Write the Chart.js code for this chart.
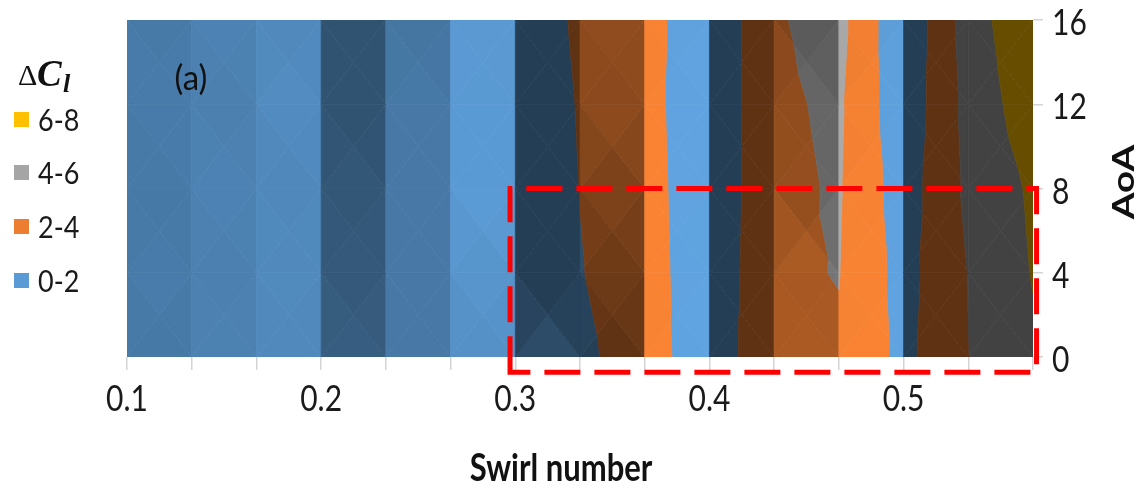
<!DOCTYPE html>
<html>
<head>
<meta charset="utf-8">
<script src="https://cdn.jsdelivr.net/npm/chart.js@4.4.1/dist/chart.umd.min.js"></script>
<style>
  html, body { margin: 0; padding: 0; background: #fff; }
  canvas { display: block; }
</style>
</head>
<body>
<canvas id="chart" width="1147" height="491"></canvas>
<script>
// Swirl number (x categories) and angle of attack (y rows)
const swirl = [0.1, 0.13333, 0.16667, 0.2, 0.23333, 0.26667, 0.3, 0.33333, 0.36667, 0.4, 0.43333, 0.46667, 0.5, 0.53333, 0.56667];
const aoa = [0, 4, 8, 12, 16];

// ΔCl for each angle of attack, one value per swirl number
const dClAoA0  = [0.55, 0.66, 0.58, 0.32, 0.95, 1.05, 0.60, 1.60, 2.90, 0.76, 3.56, 3.80, 1.48, 3.97, 5.70];
const dClAoA4  = [0.55, 0.60, 0.55, 0.28, 1.00, 1.10, 0.50, 1.92, 3.00, 0.44, 3.76, 4.05, 1.30, 4.05, 6.10];
const dClAoA8  = [0.55, 0.64, 0.52, 0.28, 1.05, 1.15, 0.30, 2.03, 2.90, 0.40, 3.60, 4.16, 1.00, 4.40, 6.30];
const dClAoA12 = [0.55, 0.60, 0.56, 0.24, 1.10, 1.20, 0.35, 2.14, 2.80, 0.30, 3.70, 4.28, 0.60, 4.60, 7.20];
const dClAoA16 = [0.55, 0.62, 0.50, 0.24, 1.10, 1.25, 0.45, 2.36, 2.96, 0.17, 3.83, 4.60, 0.32, 4.90, 7.90];
const dCl = [dClAoA0, dClAoA4, dClAoA8, dClAoA12, dClAoA16];

// Contour bands
const bandEdges = [0, 2, 4, 6, 8];
const bandLabels = ['0-2', '2-4', '4-6', '6-8'];
const bandColors = ['#5B9BD5', '#ED7D31', '#A5A5A5', '#FFC000'];

// Axis tick labels
const xTickLabels = [0.1, 0.2, 0.3, 0.4, 0.5];
const yTickLabels = [0, 4, 8, 12, 16];

// Highlighted region (swirl from/to, AoA from/to)
const focusSwirl = [0.2973, 0.5685];
const focusAoA = [-0.72, 8];

// Surface lighting
const AMB = 0.4, DIF = 0.66, Z_EXAG = 0.6;
const LIGHT_TILT = 51.5 * Math.PI / 180, LIGHT_AZ = 12 * Math.PI / 180;
const LIGHT = [Math.sin(LIGHT_TILT) * Math.cos(LIGHT_AZ), Math.sin(LIGHT_TILT) * Math.sin(LIGHT_AZ), Math.cos(LIGHT_TILT)];

const TEXT_STRETCH = 1.25;
const SANS = 'Lato, "Open Sans", sans-serif';
const SERIF = '"Liberation Serif", "DejaVu Serif", serif';

function hexToRgb(h) {
  const n = parseInt(h.slice(1), 16);
  return [(n >> 16) & 255, (n >> 8) & 255, n & 255];
}
function shadeColor(hex, f) {
  const c = hexToRgb(hex).map(v => Math.max(0, Math.min(255, Math.round(v * f))));
  return `rgb(${c[0]},${c[1]},${c[2]})`;
}

function facetBrightness(a, b, c, unit) {
  const P = p => [p.px / unit, -p.py / unit, p.z * Z_EXAG];
  const A = P(a), B = P(b), C = P(c);
  const u = [B[0] - A[0], B[1] - A[1], B[2] - A[2]];
  const v = [C[0] - A[0], C[1] - A[1], C[2] - A[2]];
  let n = [u[1] * v[2] - u[2] * v[1], u[2] * v[0] - u[0] * v[2], u[0] * v[1] - u[1] * v[0]];
  if (n[2] < 0) n = n.map(q => -q);
  const len = Math.hypot(n[0], n[1], n[2]) || 1;
  const d = (n[0] * LIGHT[0] + n[1] * LIGHT[1] + n[2] * LIGHT[2]) / len;
  return AMB + DIF * Math.max(0, d);
}

function clipPoly(poly, fn) {
  const out = [];
  for (let i = 0; i < poly.length; i++) {
    const a = poly[i], b = poly[(i + 1) % poly.length];
    const fa = fn(a), fb = fn(b);
    if (fa >= 0) out.push(a);
    if ((fa >= 0) !== (fb >= 0)) {
      const t = fa / (fa - fb);
      out.push({ px: a.px + t * (b.px - a.px), py: a.py + t * (b.py - a.py), z: a.z + t * (b.z - a.z) });
    }
  }
  return out;
}

function drawText(ctx, str, x, y, font, opts = {}) {
  ctx.save();
  ctx.translate(x, y);
  if (opts.rot) ctx.rotate(opts.rot);
  ctx.scale(opts.stretchX || 1, opts.stretch || 1);
  ctx.font = font;
  ctx.fillStyle = opts.color || '#1a1a1a';
  ctx.textAlign = opts.align || 'center';
  ctx.textBaseline = opts.baseline || 'middle';
  ctx.fillText(str, 0, 0);
  ctx.restore();
}

// Filled contour surface: each grid cell split into four facets around its centre
const surfacePlugin = {
  id: 'surface',
  beforeDatasetsDraw(chart) {
    const { ctx, chartArea, scales: { x, y } } = chart;
    const unit = Math.abs(x.getPixelForValue(swirl[1]) - x.getPixelForValue(swirl[0]));
    const pt = (ci, ri) => ({ px: x.getPixelForValue(swirl[ci]), py: y.getPixelForValue(aoa[ri]), z: dCl[ri][ci] });
    ctx.save();
    ctx.beginPath();
    ctx.rect(chartArea.left, chartArea.top, chartArea.width, chartArea.height);
    ctx.clip();
    ctx.lineJoin = 'round';
    for (let r = 0; r < aoa.length - 1; r++) {
      for (let c = 0; c < swirl.length - 1; c++) {
        const p00 = pt(c, r), p10 = pt(c + 1, r), p11 = pt(c + 1, r + 1), p01 = pt(c, r + 1);
        const pc = {
          px: (p00.px + p10.px + p11.px + p01.px) / 4,
          py: (p00.py + p10.py + p11.py + p01.py) / 4,
          z: (p00.z + p10.z + p11.z + p01.z) / 4
        };
        const tris = [[p00, p10, pc], [p10, p11, pc], [p11, p01, pc], [p01, p00, pc]];
        for (const tri of tris) {
          const f = facetBrightness(tri[0], tri[1], tri[2], unit);
          for (let b = 0; b < bandColors.length; b++) {
            const lo = b === 0 ? -1e9 : bandEdges[b];
            const hi = b === bandColors.length - 1 ? 1e9 : bandEdges[b + 1];
            let poly = clipPoly(tri, p => p.z - lo);
            if (poly.length < 3) continue;
            poly = clipPoly(poly, p => hi - p.z);
            if (poly.length < 3) continue;
            const col = shadeColor(bandColors[b], f);
            ctx.beginPath();
            ctx.moveTo(poly[0].px, poly[0].py);
            for (let i = 1; i < poly.length; i++) ctx.lineTo(poly[i].px, poly[i].py);
            ctx.closePath();
            ctx.fillStyle = col;
            ctx.strokeStyle = col;
            ctx.lineWidth = 0.7;
            ctx.fill();
            ctx.stroke();
          }
        }
      }
    }
    ctx.restore();
  }
};

// Highlight box, panel label, legend and axis texts
const decorPlugin = {
  id: 'decor',
  afterDraw(chart) {
    const { ctx, chartArea, scales: { x, y } } = chart;

    // dashed focus box
    const bx0 = x.getPixelForValue(focusSwirl[0]), bx1 = x.getPixelForValue(focusSwirl[1]);
    const by0 = y.getPixelForValue(focusAoA[1]), by1 = y.getPixelForValue(focusAoA[0]);
    ctx.save();
    ctx.strokeStyle = '#FF0000';
    ctx.lineWidth = 5;
    ctx.setLineDash([36, 14]);
    ctx.beginPath();
    ctx.moveTo(bx0, by1);
    ctx.lineTo(bx0, by0);
    ctx.lineTo(bx1, by0);
    ctx.lineTo(bx1, by1);
    ctx.closePath();
    ctx.stroke();
    ctx.restore();

    // panel label
    drawText(ctx, '(a)', 191, 79, `33px ${SANS}`, { stretch: 1.05, color: '#111' });

    // x tick labels
    xTickLabels.forEach(v => {
      drawText(ctx, v.toFixed(1), x.getPixelForValue(v), 399, `30px ${SANS}`, { stretch: TEXT_STRETCH });
    });
    // y tick labels (right side)
    yTickLabels.forEach(v => {
      drawText(ctx, String(v), chartArea.right + 19, y.getPixelForValue(v) + 3, `30px ${SANS}`, { stretch: TEXT_STRETCH, align: 'left' });
    });

    // axis titles
    drawText(ctx, 'Swirl number', 561, 468, `bold 31px ${SANS}`, { stretch: TEXT_STRETCH, color: '#111' });
    drawText(ctx, 'AoA', 1124, 182, `bold 30px ${SANS}`, { stretchX: 1.28, rot: -Math.PI / 2, color: '#111' });

    // legend title ΔCl
    ctx.save();
    ctx.fillStyle = '#111';
    ctx.textBaseline = 'alphabetic';
    ctx.textAlign = 'left';
    ctx.font = `30px ${SERIF}`;
    ctx.fillText('Δ', 18, 85);
    ctx.font = `bold italic 37px ${SERIF}`;
    ctx.fillText('C', 37, 86);
    ctx.font = `bold italic 26px ${SERIF}`;
    ctx.fillText('l', 63, 92);
    ctx.restore();

    // legend items, highest band first
    const rows = [120, 173, 227, 281];
    for (let i = 0; i < bandLabels.length; i++) {
      const b = bandLabels.length - 1 - i;
      ctx.fillStyle = bandColors[b];
      ctx.fillRect(14, rows[i] - 8, 15, 15);
      drawText(ctx, bandLabels[b], 38, rows[i] + 1, `27px ${SANS}`, { stretch: 1.15, align: 'left' });
    }
  }
};

const gridPoints = [];
aoa.forEach(a => swirl.forEach(s => gridPoints.push({ x: s, y: a })));

new Chart(document.getElementById('chart').getContext('2d'), {
  type: 'scatter',
  data: { datasets: [{ label: 'ΔCl', data: gridPoints, pointRadius: 0, pointHoverRadius: 0, showLine: false }] },
  options: {
    responsive: false,
    animation: false,
    devicePixelRatio: 1,
    layout: { padding: { left: 127, top: 20, right: 0, bottom: 0 } },
    plugins: { legend: { display: false }, tooltip: { enabled: false } },
    scales: {
      x: {
        type: 'linear',
        min: swirl[0],
        max: swirl[swirl.length - 1],
        afterBuildTicks: s => { s.ticks = swirl.map(v => ({ value: v })); },
        afterFit: s => { s.height = 134; },
        border: { display: false },
        grid: { drawOnChartArea: false, drawTicks: true, tickLength: 13, color: '#d4d4d4', lineWidth: 1.5 },
        ticks: { display: false }
      },
      y: {
        type: 'linear',
        position: 'right',
        min: 0,
        max: 16,
        afterBuildTicks: s => { s.ticks = yTickLabels.map(v => ({ value: v })); },
        afterFit: s => { s.width = 114; },
        border: { display: false },
        grid: { drawOnChartArea: false, drawTicks: true, tickLength: 10, color: '#d4d4d4', lineWidth: 1.5 },
        ticks: { display: false }
      }
    }
  },
  plugins: [surfacePlugin, decorPlugin]
});
</script>
</body>
</html>
